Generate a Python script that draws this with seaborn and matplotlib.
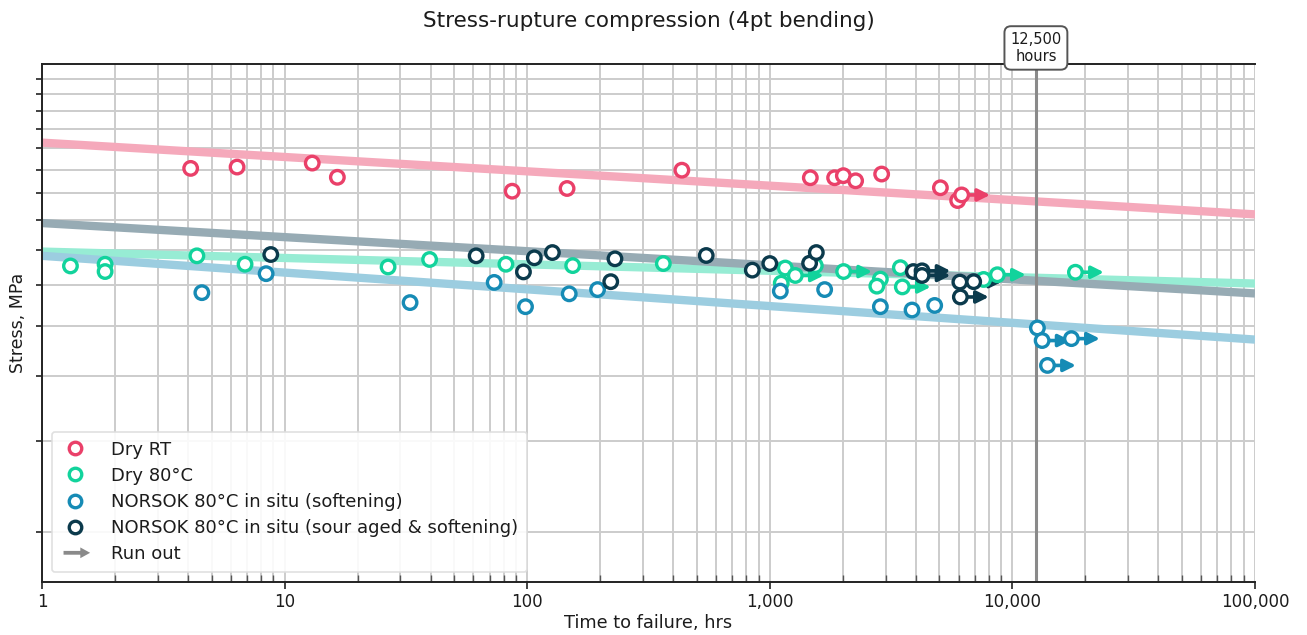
import numpy as np
import pandas as pd
import matplotlib
matplotlib.use("Agg")
import matplotlib.pyplot as plt
import matplotlib.patches as mpatches
import matplotlib.transforms as mtransforms
from matplotlib.lines import Line2D
from matplotlib.legend_handler import HandlerPatch
import seaborn as sns

# ---------------- data ----------------
series_names = ["Dry RT", "Dry 80°C", "NORSOK 80°C in situ (softening)",
                "NORSOK 80°C in situ (sour aged & softening)"]

dry_rt_t = [4.1, 6.37, 13.0, 16.5, 86.7, 146, 434, 1469, 1850, 2010, 2258, 2891, 5049, 5948, 6178]
dry_rt_s = [100.6, 101.2, 103.0, 96.7, 90.9, 92.0, 99.8, 96.5, 96.5, 97.4, 95.2, 98.1, 92.3, 87.2, 89.4]
dry_rt_run = [0, 0, 0, 0, 0, 0, 0, 0, 0, 0, 0, 0, 0, 0, 1]

dry80_t = [1.31, 1.82, 1.82, 4.35, 6.87, 26.7, 39.6, 81.7, 154, 364, 1158, 1274, 1115, 1540,
           2015, 2856, 2762, 3452, 3518, 7613, 8671, 18190]
dry80_s = [65.2, 65.7, 63.6, 68.2, 65.7, 64.9, 67.1, 65.7, 65.3, 65.9, 64.6, 62.5, 60.4, 65.3,
           63.6, 61.5, 59.6, 64.7, 59.4, 61.4, 62.7, 63.4]
dry80_run = [0, 0, 0, 0, 0, 0, 0, 0, 0, 0, 0, 1, 0, 0, 1, 0, 0, 0, 1, 0, 1, 1]

nor_t = [4.56, 8.39, 32.9, 73.1, 98.4, 149, 195, 1105, 1683, 2856, 3858, 4782, 12680, 13260, 17510, 13950]
nor_s = [57.9, 63.0, 55.4, 60.6, 54.4, 57.6, 58.7, 58.3, 58.7, 54.4, 53.6, 54.7, 49.5, 46.8, 47.2, 41.9]
nor_run = [0, 0, 0, 0, 0, 0, 0, 0, 0, 0, 0, 0, 0, 1, 1, 1]

sour_t = [8.77, 61.6, 96.5, 107, 127, 230, 221, 547, 847, 1000, 1459, 1555, 3906, 4242, 4242,
          6073, 6925, 6103]
sour_s = [68.6, 68.2, 63.5, 67.6, 69.2, 67.3, 60.8, 68.3, 64.0, 65.9, 66.0, 69.2, 63.6, 63.8, 62.5,
          60.7, 60.8, 56.8]
sour_run = [0, 0, 0, 0, 0, 0, 0, 0, 0, 0, 0, 0, 0, 1, 1, 0, 1, 1]

fit_t = [1, 100000]
fit_dry_rt = [112.8, 82.0]
fit_dry80 = [69.5, 60.3]
fit_nor = [68.2, 47.0]
fit_sour = [78.9, 57.7]

design_life = 12500
x_ticks = [1, 10, 100, 1000, 10000, 100000]
x_tick_labels = ["1", "10", "100", "1,000", "10,000", "100,000"]
y_ticks = [20, 30, 40, 50, 60, 70, 80, 90, 100, 110, 120, 130, 140, 150]

# ---------------- style ----------------
colors = ["#ea4069", "#12d39c", "#168bb5", "#0b3a4c"]
fit_colors = ["#f5a9bb", "#97ecd4", "#9ccde0", "#97abb4"]
runout_factor = 1.31
ink = "#1c1c1c"

sns.set_theme(style="whitegrid")
plt.rcParams["font.family"] = ["DejaVu Sans"]
plt.rcParams["text.color"] = ink
plt.rcParams["axes.labelcolor"] = ink
plt.rcParams["xtick.color"] = ink
plt.rcParams["ytick.color"] = ink

fig = plt.figure(figsize=(13.07, 6.35), dpi=100)
ax = fig.add_axes([42 / 1307, 1 - 582 / 635, 1213 / 1307, 518 / 635])
ax.set_facecolor("white")

frames = []
for name, t, s, r in [(series_names[0], dry_rt_t, dry_rt_s, dry_rt_run),
                      (series_names[1], dry80_t, dry80_s, dry80_run),
                      (series_names[2], nor_t, nor_s, nor_run),
                      (series_names[3], sour_t, sour_s, sour_run)]:
    frames.append(pd.DataFrame({"series": name, "t": t, "s": s, "run": r}))
df = pd.concat(frames, ignore_index=True)

fits = pd.DataFrame({
    "t": fit_t * 4,
    "s": fit_dry_rt + fit_dry80 + fit_nor + fit_sour,
    "series": [n for n in series_names for _ in fit_t],
})

ax.set_xscale("log")
ax.set_yscale("log")

sns.lineplot(data=fits, x="t", y="s", hue="series", palette=fit_colors, hue_order=series_names,
             lw=6, legend=False, ax=ax, zorder=2, solid_capstyle="butt")

ax.axvline(design_life, color="#8a8a8a", lw=2.2, zorder=2.2)

# run-out arrows
for i, name in enumerate(series_names):
    sub = df[(df["series"] == name) & (df["run"] == 1)]
    for _, row in sub.iterrows():
        ax.annotate("", xy=(row["t"] * runout_factor, row["s"]), xytext=(row["t"], row["s"]),
                    arrowprops=dict(arrowstyle="-|>", color=colors[i], lw=2.6,
                                    mutation_scale=18, shrinkA=0, shrinkB=0),
                    zorder=2.5)

sns.scatterplot(data=df, x="t", y="s", hue="series", palette=colors, hue_order=series_names,
                marker="o", s=95, facecolor="white", linewidth=2.4, legend=False, ax=ax, zorder=3)
for coll in ax.collections:
    fc = coll.get_facecolors()
    if len(fc):
        coll.set_edgecolors(fc)
        coll.set_facecolors("white")

ax.set_xlim(1, 100000)
ax.set_ylim(16, 160)
ax.set_xticks(x_ticks)
ax.set_xticklabels(x_tick_labels, fontsize=12)
ax.xaxis.set_minor_locator(matplotlib.ticker.LogLocator(base=10, subs=np.arange(2, 10)))
ax.xaxis.set_minor_formatter(matplotlib.ticker.NullFormatter())
ax.set_yticks(y_ticks)
ax.set_yticklabels([""] * len(y_ticks))
ax.yaxis.set_minor_locator(matplotlib.ticker.NullLocator())

ax.grid(True, which="major", axis="both", color="#cccccc", lw=1.4)
ax.grid(True, which="minor", axis="x", color="#cccccc", lw=1.4)
ax.set_axisbelow(True)

for sp in ["left", "bottom", "top"]:
    ax.spines[sp].set_visible(True)
    ax.spines[sp].set_color("#222222")
    ax.spines[sp].set_linewidth(1.4)
ax.spines["right"].set_visible(False)

ax.tick_params(axis="x", which="major", direction="out", length=5, width=1.2, color="#222222",
               bottom=True, pad=3)
ax.tick_params(axis="x", which="minor", direction="in", length=5, width=1.0, color="#555555",
               bottom=True)
ax.tick_params(axis="y", which="major", direction="out", length=4, width=1.2, color="#222222",
               left=True, pad=0)

ax.set_xlabel("Time to failure, hrs", fontsize=12.8, labelpad=2)
ax.set_ylabel("Stress, MPa", fontsize=12.5, labelpad=7)

fig.text(648.5 / 1307, 1 - 21 / 635, "Stress-rupture compression (4pt bending)",
         ha="center", va="center", fontsize=15.5)

trans = mtransforms.blended_transform_factory(ax.transData, ax.transAxes)
ax.text(design_life, 1.031, "12,500\nhours", transform=trans, ha="center", va="center",
        fontsize=10.5, linespacing=1.15, zorder=6, clip_on=False,
        bbox=dict(boxstyle="round,pad=0.4,rounding_size=0.45", fc="white", ec="#555555", lw=1.4))


class HandlerArrow(HandlerPatch):
    def create_artists(self, legend, orig_handle, xdescent, ydescent, width, height, fontsize, trans):
        p = mpatches.FancyArrow(-xdescent + 0.1 * width, 0.5 * height - ydescent, 0.95 * width, 0,
                                length_includes_head=True, width=0.3 * height,
                                head_width=0.85 * height, head_length=0.35 * width,
                                color="#8a8a8a", lw=0)
        p.set_transform(trans)
        return [p]


handles = [Line2D([], [], ls="none", marker="o", ms=9, mfc="white", mec=c, mew=2.4) for c in colors]
arrow_handle = mpatches.FancyArrow(0, 0, 1, 0)
handles.append(arrow_handle)
labels = series_names + ["Run out"]
leg = ax.legend(handles, labels, loc="lower left", bbox_to_anchor=(0.008, 0.019),
                borderaxespad=0, fontsize=13, frameon=True, handlelength=1.55,
                handletextpad=1.25, labelspacing=0.45, borderpad=0.5,
                handler_map={mpatches.FancyArrow: HandlerArrow()})
leg.get_frame().set_edgecolor("#dddddd")
leg.get_frame().set_linewidth(1.2)
leg.get_frame().set_facecolor("white")
leg.get_frame().set_alpha(0.9)
leg.set_zorder(7)

fig.savefig("out.png", dpi=100)
